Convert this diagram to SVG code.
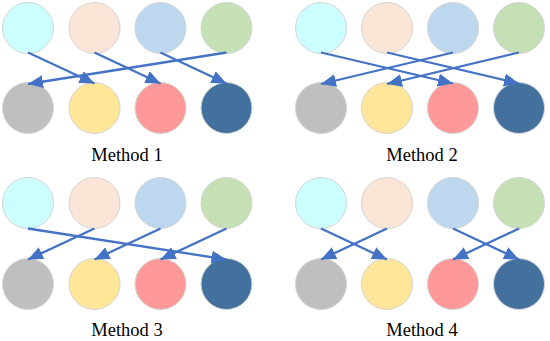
<svg xmlns="http://www.w3.org/2000/svg" width="550" height="341" viewBox="0 0 550 341">
<defs>
<marker id="ah" markerUnits="userSpaceOnUse" markerWidth="16" markerHeight="13" refX="15" refY="6.5" orient="auto">
<path d="M0,0 L15,6.5 L0,13 z" fill="#4472C4"/>
</marker>
<style>
circle{stroke:#d4d4d4;stroke-width:1}
.c1{fill:#CCFFFF}.c2{fill:#FBE5D6}.c3{fill:#BDD7EE}.c4{fill:#C5E0B4}
.b1{fill:#BFBFBF}.b2{fill:#FFE699}.b3{fill:#FF9999}.b4{fill:#41719C}
line{stroke:#4472C4;stroke-width:2.3;marker-end:url(#ah)}
text{font-family:"Liberation Serif","Times New Roman",serif;font-size:18.5px;fill:#000;text-anchor:middle}
</style>
</defs>
<g id="panel1">
<g id="p1-top"><circle class="c1" cx="28" cy="28" r="25.5"/><circle class="c2" cx="94.5" cy="28" r="25.5"/><circle class="c3" cx="160.5" cy="28" r="25.5"/><circle class="c4" cx="226.5" cy="28" r="25.5"/></g>
<g id="p1-bot"><circle class="b1" cx="28" cy="108" r="25.5"/><circle class="b2" cx="94.5" cy="108" r="25.5"/><circle class="b3" cx="160.5" cy="108" r="25.5"/><circle class="b4" cx="226.5" cy="108" r="25.5"/></g>
<text x="127" y="161">Method 1</text>
</g>
<g id="panel2">
<g id="p2-top"><circle class="c1" cx="321" cy="28" r="25.5"/><circle class="c2" cx="387" cy="28" r="25.5"/><circle class="c3" cx="453" cy="28" r="25.5"/><circle class="c4" cx="519" cy="28" r="25.5"/></g>
<g id="p2-bot"><circle class="b1" cx="321" cy="108" r="25.5"/><circle class="b2" cx="387" cy="108" r="25.5"/><circle class="b3" cx="453" cy="108" r="25.5"/><circle class="b4" cx="519" cy="108" r="25.5"/></g>
<text x="422" y="161">Method 2</text>
</g>
<g id="panel3">
<g id="p3-top"><circle class="c1" cx="28" cy="203" r="25.5"/><circle class="c2" cx="94.5" cy="203" r="25.5"/><circle class="c3" cx="160.5" cy="203" r="25.5"/><circle class="c4" cx="226.5" cy="203" r="25.5"/></g>
<g id="p3-bot"><circle class="b1" cx="28" cy="284" r="25.5"/><circle class="b2" cx="94.5" cy="284" r="25.5"/><circle class="b3" cx="160.5" cy="284" r="25.5"/><circle class="b4" cx="226.5" cy="284" r="25.5"/></g>
<text x="127" y="336">Method 3</text>
</g>
<g id="panel4">
<g id="p4-top"><circle class="c1" cx="321" cy="203" r="25.5"/><circle class="c2" cx="387" cy="203" r="25.5"/><circle class="c3" cx="453" cy="203" r="25.5"/><circle class="c4" cx="519" cy="203" r="25.5"/></g>
<g id="p4-bot"><circle class="b1" cx="321" cy="284" r="25.5"/><circle class="b2" cx="387" cy="284" r="25.5"/><circle class="b3" cx="453" cy="284" r="25.5"/><circle class="b4" cx="519" cy="284" r="25.5"/></g>
<text x="422" y="336">Method 4</text>
</g>
<g id="connectors">
<line x1="28" y1="52.5" x2="94.5" y2="83.5"/>
<line x1="94.5" y1="52.5" x2="160.5" y2="83.5"/>
<line x1="160.5" y1="52.5" x2="226.5" y2="83.5"/>
<line x1="226.5" y1="52.5" x2="28" y2="84"/>
<line x1="321" y1="52.5" x2="453" y2="83.5"/>
<line x1="387" y1="52.5" x2="519" y2="83.5"/>
<line x1="453" y1="52.5" x2="321" y2="84"/>
<line x1="519" y1="52.5" x2="387" y2="84"/>
<line x1="28" y1="228.5" x2="226.5" y2="259.5"/>
<line x1="94.5" y1="228.5" x2="28" y2="259.5"/>
<line x1="160.5" y1="228.5" x2="94.5" y2="259.5"/>
<line x1="226.5" y1="228.5" x2="160.5" y2="259.5"/>
<line x1="321" y1="228.5" x2="387" y2="259.5"/>
<line x1="387" y1="228.5" x2="321" y2="259.5"/>
<line x1="453" y1="228.5" x2="519" y2="259.5"/>
<line x1="519" y1="228.5" x2="453" y2="259.5"/>
</g>
</svg>
